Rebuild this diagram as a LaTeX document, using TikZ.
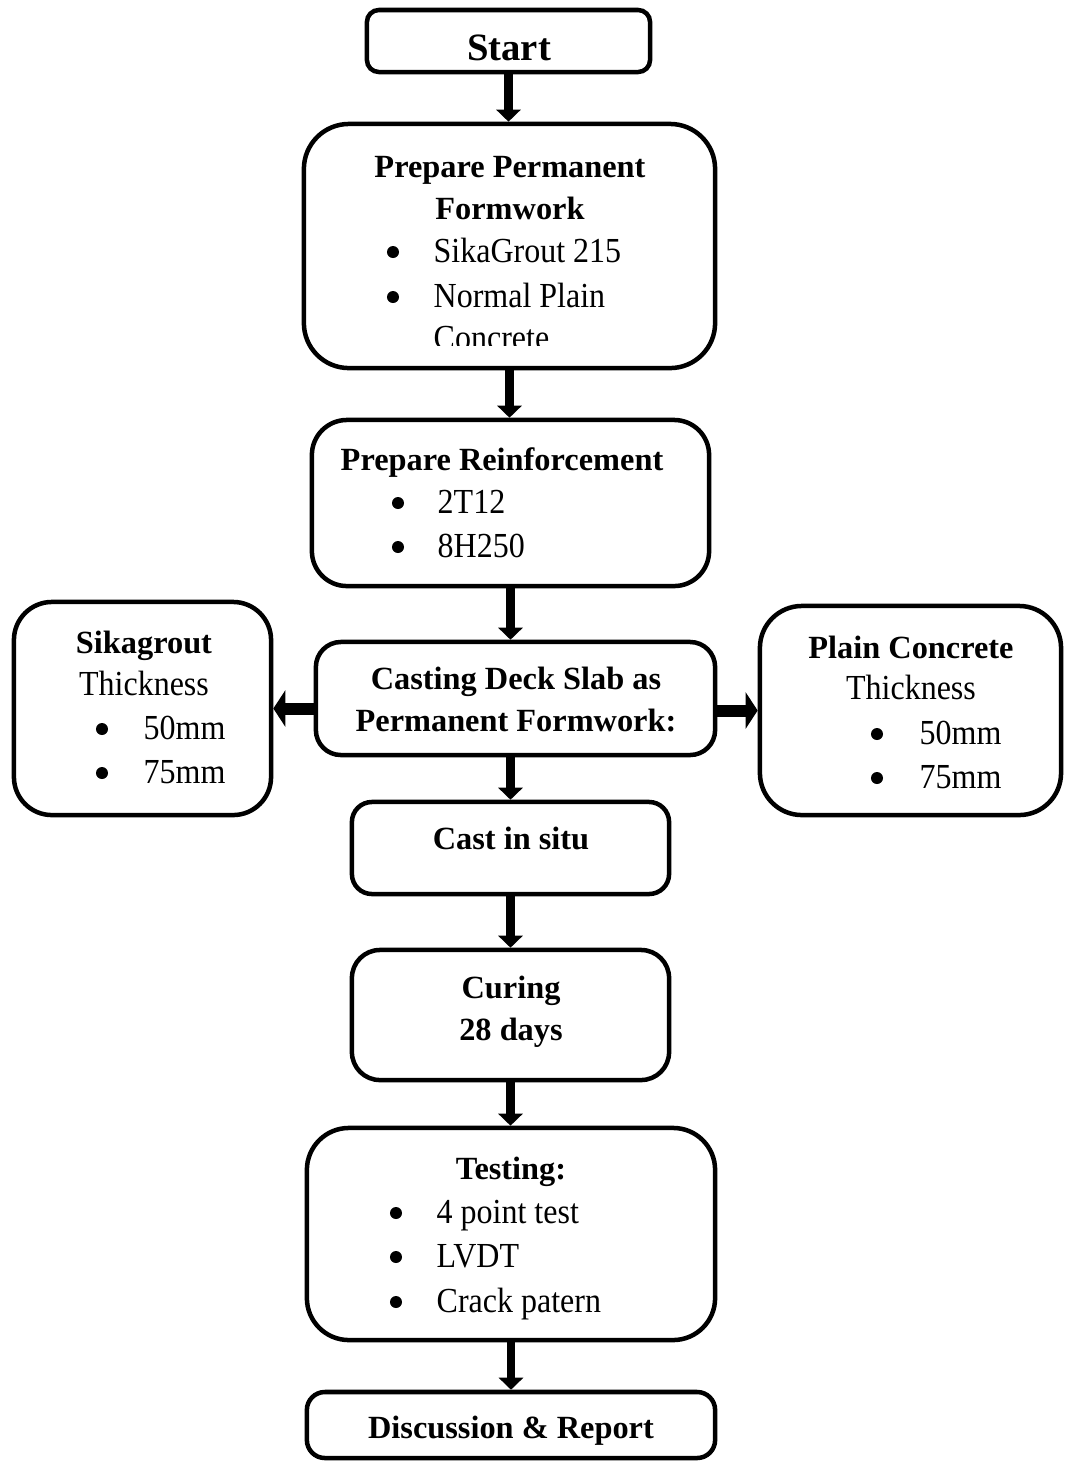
\documentclass[tikz,border=0pt]{standalone}
\usepackage{fontspec}
\setmainfont{Liberation Serif}
\newfontfamily\itemfont{Liberation Serif}[FakeStretch=0.91]
\usepackage{tikz}
\usetikzlibrary{arrows.meta}
\def\lw{0.045cm}
\tikzset{
  flowbox/.style={draw, line width=\lw, rounded corners=#1, inner sep=0pt},
  head/.style={font=\fontsize{9.2}{11}\selectfont\bfseries, anchor=base, inner sep=0pt},
  item/.style={font=\itemfont\fontsize{10}{12}\selectfont, anchor=base west, inner sep=0pt},
  sub/.style={font=\itemfont\fontsize{10}{12}\selectfont, anchor=base, inner sep=0pt},
  dot/.style={circle, fill, inner sep=0pt, minimum size=0.12cm},
  flow/.style={line width=0.085cm, -{Triangle[width=0.24cm,length=0.12cm]}},
  sideflow/.style={line width=0.12cm, -{Triangle[width=0.36cm,length=0.12cm]}},
}

\begin{document}
\begin{tikzpicture}[x=0.01cm, y=-0.01cm]
\useasboundingbox (0,0) rectangle (1066,1462);

% Boxes
\node[flowbox=0.12cm, minimum width=2.83cm, minimum height=0.62cm] (start) at (508.5,41) {};
\node[flowbox=0.45cm, minimum width=4.11cm, minimum height=2.44cm] (formwork) at (509.5,246) {};
\node[flowbox=0.35cm, minimum width=3.97cm, minimum height=1.66cm] (reinf) at (510.5,503) {};
\node[flowbox=0.25cm, minimum width=3.99cm, minimum height=1.13cm] (casting) at (515.5,698.5) {};
\node[flowbox=0.38cm, minimum width=2.57cm, minimum height=2.13cm] (sika) at (142.5,708.5) {};
\node[flowbox=0.42cm, minimum width=3.01cm, minimum height=2.09cm] (plain) at (910.5,710.5) {};
\node[flowbox=0.2cm, minimum width=3.17cm, minimum height=0.92cm] (situ) at (510.5,848) {};
\node[flowbox=0.28cm, minimum width=3.17cm, minimum height=1.30cm] (curing) at (510.5,1015) {};
\node[flowbox=0.42cm, minimum width=4.08cm, minimum height=2.12cm] (testing) at (511,1234) {};
\node[flowbox=0.18cm, minimum width=4.08cm, minimum height=0.66cm] (report) at (511,1425) {};

% Arrows
\draw[flow] (start.south) -- (start.south |- formwork.north);
\draw[flow] (formwork.south) -- (formwork.south |- reinf.north);
\draw[flow] (reinf.south) -- (reinf.south |- casting.north);
\draw[sideflow] (casting.west |- sika.east) -- (sika.east);
\draw[sideflow] (casting.east |- plain.west) -- (plain.west);
\draw[flow] (situ.north |- casting.south) -- (situ.north);
\draw[flow] (situ.south) -- (curing.north);
\draw[flow] (curing.south) -- (curing.south |- testing.north);
\draw[flow] (testing.south) -- (report.north);

% Labels
\node[head, font=\fontsize{11}{12}\selectfont\bfseries] (start-t) at (509,60) {Start};

\node[head] (formwork-t1) at (510,177) {Prepare Permanent};
\node[head] (formwork-t2) at (510,219) {Formwork};
\node[dot] (formwork-d1) at (393,252) {};
\node[item] (formwork-i1) at (433,262) {SikaGrout 215};
\node[dot] (formwork-d2) at (393,297) {};
\node[item] (formwork-i2) at (433,307) {Normal Plain};
\begin{scope}
  \clip (420,320) rectangle (700,345);
  \node[item] (formwork-i3) at (433,349) {Concrete};
\end{scope}

\node[head] (reinf-t) at (502,470) {Prepare Reinforcement};
\node[dot] (reinf-d1) at (398,503) {};
\node[item] (reinf-i1) at (437,513) {2T12};
\node[dot] (reinf-d2) at (398,547) {};
\node[item] (reinf-i2) at (437,557) {8H250};

\node[head] (casting-t1) at (516,689) {Casting Deck Slab as};
\node[head] (casting-t2) at (516,731) {Permanent Formwork:};

\node[head] (sika-t) at (144,653) {Sikagrout};
\node[sub] (sika-s) at (144,695) {Thickness};
\node[dot] (sika-d1) at (102,729) {};
\node[item] (sika-i1) at (143,739) {50mm};
\node[dot] (sika-d2) at (102,773) {};
\node[item] (sika-i2) at (143,783) {75mm};

\node[head] (plain-t) at (911,658) {Plain Concrete};
\node[sub] (plain-s) at (911,699) {Thickness};
\node[dot] (plain-d1) at (877,734) {};
\node[item] (plain-i1) at (919,744) {50mm};
\node[dot] (plain-d2) at (877,778) {};
\node[item] (plain-i2) at (919,788) {75mm};

\node[head] (situ-t) at (511,849) {Cast in situ};

\node[head] (curing-t1) at (511,998) {Curing};
\node[head] (curing-t2) at (511,1040) {28 days};

\node[head] (testing-t) at (511,1179) {Testing:};
\node[dot] (testing-d1) at (396,1213) {};
\node[item] (testing-i1) at (436,1223) {4 point test};
\node[dot] (testing-d2) at (396,1257) {};
\node[item] (testing-i2) at (436,1267) {LVDT};
\node[dot] (testing-d3) at (396,1302) {};
\node[item] (testing-i3) at (436,1312) {Crack patern};

\node[head] (report-t) at (511,1438) {Discussion \& Report};

\end{tikzpicture}
\end{document}
